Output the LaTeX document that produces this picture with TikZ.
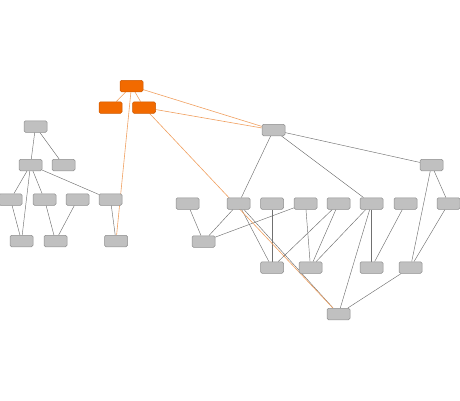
\documentclass[tikz,border=0pt]{standalone}
\usetikzlibrary{backgrounds}
\definecolor{nodegray}{HTML}{C0C0C0}
\definecolor{nodeline}{HTML}{8E8E8E}
\definecolor{hotfill}{HTML}{F26A00}
\definecolor{hotline}{HTML}{CC5800}
\definecolor{edgegray}{HTML}{707070}
\definecolor{edgeorange}{HTML}{F0A060}
\tikzset{
  box/.style={draw=nodeline, fill=nodegray, line width=0.5pt, rounded corners=1.5pt,
    minimum width=23pt, minimum height=11.5pt, inner sep=0pt},
  hotbox/.style={box, draw=hotline, fill=hotfill},
  link/.style={draw=edgegray, line width=0.45pt},
  hotlink/.style={draw=edgeorange, line width=0.6pt}
}
\begin{document}
\begin{tikzpicture}[x=1pt,y=-1pt]
\useasboundingbox (0,0) rectangle (460,400);
% nodes
\node[hotbox] (O1) at (131.5,86) {};
\node[hotbox] (O2) at (110.5,107.5) {};
\node[hotbox] (O3) at (144,107.5) {};
\node[box] (A) at (35.5,126.5) {};
\node[box] (B) at (30.5,165) {};
\node[box] (C) at (63.5,165) {};
\node[box] (D1) at (10.5,199.5) {};
\node[box] (D2) at (44.5,199.5) {};
\node[box] (D3) at (77.5,199.5) {};
\node[box] (D4) at (110.5,199.5) {};
\node[box] (E1) at (21.5,241) {};
\node[box] (E2) at (55.5,241) {};
\node[box] (E3) at (116,241) {};
\node[box] (F) at (273.5,130) {};
\node[box] (J) at (431.5,165) {};
\node[box] (G1) at (187.5,203.5) {};
\node[box] (G2) at (238.5,203.5) {};
\node[box] (G3) at (272,203.5) {};
\node[box] (G4) at (305.5,203.5) {};
\node[box] (G5) at (338.5,203.5) {};
\node[box] (G6) at (371.5,203.5) {};
\node[box] (G7) at (405.5,203.5) {};
\node[box] (G8) at (448.5,203.5) {};
\node[box] (H1) at (203.5,241.5) {};
\node[box] (I1) at (272,267.5) {};
\node[box] (I2) at (310.5,267.5) {};
\node[box] (I3) at (371.5,267.5) {};
\node[box] (I4) at (410.5,267.5) {};
\node[box] (K) at (338.5,314) {};
% edges
\begin{pgfonlayer}{background}
\foreach \a/\b in {A/B,A/C,B/D1,B/E1,B/D2,B/D4,D1/E1,D2/E2,D3/E2,D4/E3,
  F/G2,F/J,F/G6,G1/H1,G2/H1,G4/H1,G2/I1,G3/I1,G5/I1,G4/I2,G5/I2,G6/I2,
  G6/I3,G6/K,G2/K,G7/I3,J/I4,J/G8,G8/I4,I4/K}
  \draw[link] (\a) -- (\b);
\foreach \a/\b in {O1/O2,O1/O3,O1/F,O3/F,O1/E3,O3/K}
  \draw[hotlink] (\a) -- (\b);
\end{pgfonlayer}
\end{tikzpicture}
\end{document}
